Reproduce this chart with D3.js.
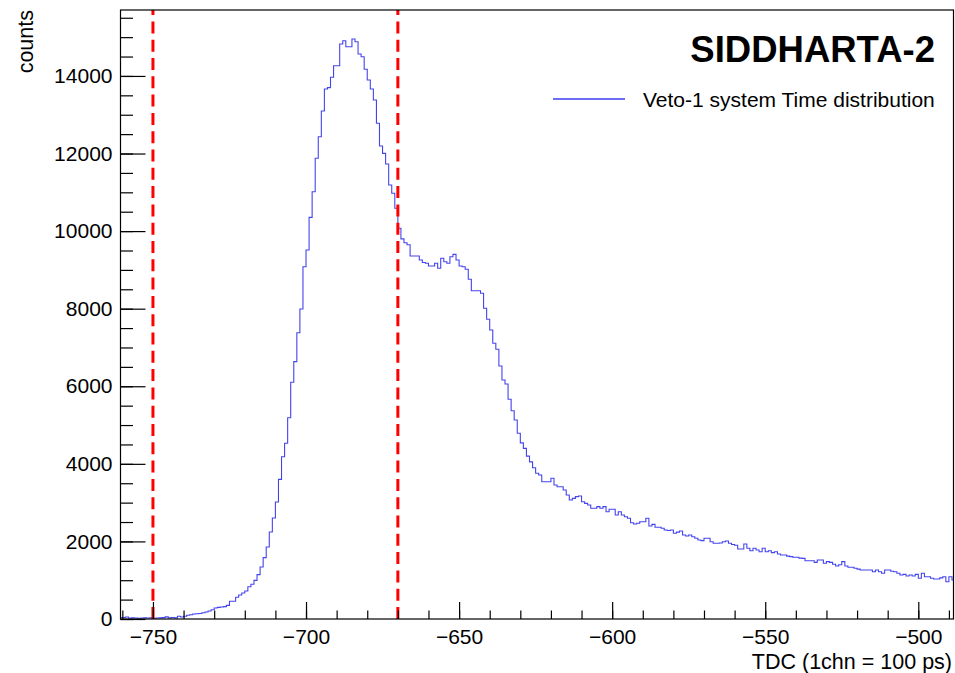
<!DOCTYPE html>
<html>
<head>
<meta charset="utf-8">
<script src="https://cdn.jsdelivr.net/npm/d3@7"></script>
<style>
  html, body { margin: 0; padding: 0; background: #fff; }
  svg { display: block; font-family: "Liberation Sans", Arial, Helvetica, sans-serif; }
</style>
</head>
<body>
<svg id="chart" width="955" height="673"></svg>
<script>
// ---------------- data ----------------
const binStart = -761;           // lower edge of first bin (bin width = 1 channel)
const binWidth = 1;
const counts = [
  40, 40, 50, 25, 30, 25, 20, 25, 30, 25, 30, 20, 25, 30, 35, 55, 30, 40, 30, 70, 50,
  70, 95, 110, 130, 137, 140, 163, 180, 206, 240,
  284, 300, 310, 320, 352, 456, 456, 560, 620, 670,
  722, 830, 894, 997, 1143, 1340, 1581, 1856, 2243, 2604,
  3016, 3600, 4184, 4529, 5190, 6102, 6634, 7381, 7992, 9082,
  9513, 10355, 11016, 11877, 12434, 13096, 13663, 13700, 13965, 14264,
  14264, 14824, 14909, 14754, 14754, 14952, 14883, 14566, 14496, 14171,
  13896, 13663, 13380, 12779, 12194, 12005, 11730, 11189, 10975, 10588,
  10072, 9800, 9700, 9650, 9358, 9358, 9358, 9255, 9190, 9170,
  9100, 9100, 9170, 9041, 9299, 9210, 9170, 9340, 9400, 9255,
  9100, 9080, 9015, 8758, 8464, 8464, 8464, 8397, 8010, 7726,
  7450, 7108, 6953, 6522, 6161, 6058, 5664, 5370, 5130, 4787,
  4540, 4400, 4200, 4050, 3900, 3756, 3712, 3540, 3540, 3540,
  3627, 3455, 3411, 3411, 3326, 3197, 3068, 3111, 3154, 3171,
  3024, 2982, 2939, 2854, 2854, 2896, 2854, 2896, 2766, 2828,
  2828, 2681, 2766, 2681, 2637, 2596, 2483, 2449, 2467, 2508,
  2508, 2596, 2397, 2440, 2364, 2364, 2338, 2294, 2280, 2294,
  2209, 2240, 2270, 2166, 2140, 2166, 2122, 2080, 2037, 2020,
  2080, 2080, 1993, 1951, 1951, 1960, 1993, 2010, 1951, 1920,
  1900, 1805, 1805, 1933, 1823, 1761, 1823, 1779, 1735, 1823,
  1735, 1761, 1710, 1735, 1676, 1650, 1650, 1620, 1607, 1590,
  1590, 1570, 1564, 1503, 1503, 1503, 1461, 1521, 1521, 1436,
  1478, 1460, 1410, 1366, 1400, 1478, 1366, 1333, 1333, 1307,
  1285, 1263, 1263, 1263, 1263, 1220, 1263, 1220, 1178, 1263,
  1263, 1230, 1220, 1178, 1134, 1150, 1108, 1134, 1108, 1150,
  1049, 1178, 1090, 1090, 1049, 1031, 1031, 1060, 1090, 962,
  1090, 1005
];
const xDomain = [-760.6, -488.5];
const yDomain = [0, 15700];
const xMajorTicks = [-750, -700, -650, -600, -550, -500];
const xMinorTicks = d3.range(-760, -488, 10);
const yMajorTicks = [0, 2000, 4000, 6000, 8000, 10000, 12000, 14000];
const yMinorTicks = d3.range(0, 15701, 500);
const cutLines = [-750, -670];
const titleText = "SIDDHARTA-2";
const legendLabel = "Veto-1 system Time distribution";
const xTitle = "TDC (1chn = 100 ps)";
const yTitle = "counts";

// ---------------- layout ----------------
const L = 120.5, R = 953.5, T = 10, B = 619;
const svg = d3.select("#chart");
const x = d3.scaleLinear().domain(xDomain).range([L, R]);
const y = d3.scaleLinear().domain(yDomain).range([B, T]);
const fmt = d3.format("d");
const FS = 21;

svg.append("defs").append("clipPath").attr("id", "clip")
  .append("rect").attr("x", L).attr("y", T).attr("width", R - L).attr("height", B - T);

// histogram (step line)
const pts = counts.map((c, i) => [binStart + i * binWidth, c]);
pts.push([binStart + counts.length * binWidth, counts[counts.length - 1]]);
const stepLine = d3.line().x(d => x(d[0])).y(d => y(d[1])).curve(d3.curveStepAfter);
svg.append("path")
  .attr("clip-path", "url(#clip)")
  .attr("d", stepLine(pts))
  .attr("fill", "none")
  .attr("stroke", "#4444ee")
  .attr("stroke-width", 1.1);

// red dashed cut lines
svg.selectAll("line.cut").data(cutLines).enter().append("line")
  .attr("class", "cut")
  .attr("x1", d => x(d)).attr("x2", d => x(d))
  .attr("y1", B).attr("y2", T)
  .attr("stroke", "#ff0000")
  .attr("stroke-width", 3)
  .attr("stroke-dasharray", "12,6.3");

// frame
svg.append("rect")
  .attr("x", L).attr("y", T).attr("width", R - L).attr("height", B - T)
  .attr("fill", "none").attr("stroke", "#000").attr("stroke-width", 1.2);

// x axis: minor + major ticks
const gxMinor = svg.append("g").attr("transform", `translate(0,${B})`)
  .call(d3.axisBottom(x).tickValues(xMinorTicks).tickSize(-8.5).tickFormat(""));
const gxMajor = svg.append("g").attr("transform", `translate(0,${B})`)
  .call(d3.axisBottom(x).tickValues(xMajorTicks).tickSize(-17).tickPadding(10).tickFormat(fmt));
[gxMinor, gxMajor].forEach(g => {
  g.select(".domain").remove();
  g.selectAll("line").attr("stroke", "#000").attr("stroke-width", 1.2);
});
gxMajor.selectAll("text").attr("font-size", FS).attr("fill", "#000")
  .attr("font-family", "'Liberation Sans', Arial, Helvetica, sans-serif");

// y axis
const gyMinor = svg.append("g").attr("transform", `translate(${L},0)`)
  .call(d3.axisLeft(y).tickValues(yMinorTicks).tickSize(-12.5).tickFormat(""));
const gyMajor = svg.append("g").attr("transform", `translate(${L},0)`)
  .call(d3.axisLeft(y).tickValues(yMajorTicks).tickSize(-25).tickPadding(8).tickFormat(fmt));
[gyMinor, gyMajor].forEach(g => {
  g.select(".domain").remove();
  g.selectAll("line").attr("stroke", "#000").attr("stroke-width", 1.2);
});
gyMajor.selectAll("text").attr("font-size", FS).attr("fill", "#000")
  .attr("font-family", "'Liberation Sans', Arial, Helvetica, sans-serif");

// axis titles
svg.append("text").attr("x", 952).attr("y", 668.5).attr("text-anchor", "end")
  .attr("font-size", 21.5).attr("fill", "#000").text(xTitle);
svg.append("text").attr("transform", "translate(33,10) rotate(-90)")
  .attr("text-anchor", "end").attr("font-size", 21.5).attr("fill", "#000").text(yTitle);

// title
svg.append("text").attr("x", 935).attr("y", 62).attr("text-anchor", "end")
  .attr("font-size", 36.5).attr("font-weight", "bold").attr("fill", "#000").text(titleText);

// legend
svg.append("line").attr("x1", 553).attr("x2", 625).attr("y1", 99).attr("y2", 99)
  .attr("stroke", "#3c3cf2").attr("stroke-width", 1.5);
svg.append("text").attr("x", 643).attr("y", 99).attr("dy", "0.36em")
  .attr("font-size", 21).attr("fill", "#000").text(legendLabel);
</script>
</body>
</html>
